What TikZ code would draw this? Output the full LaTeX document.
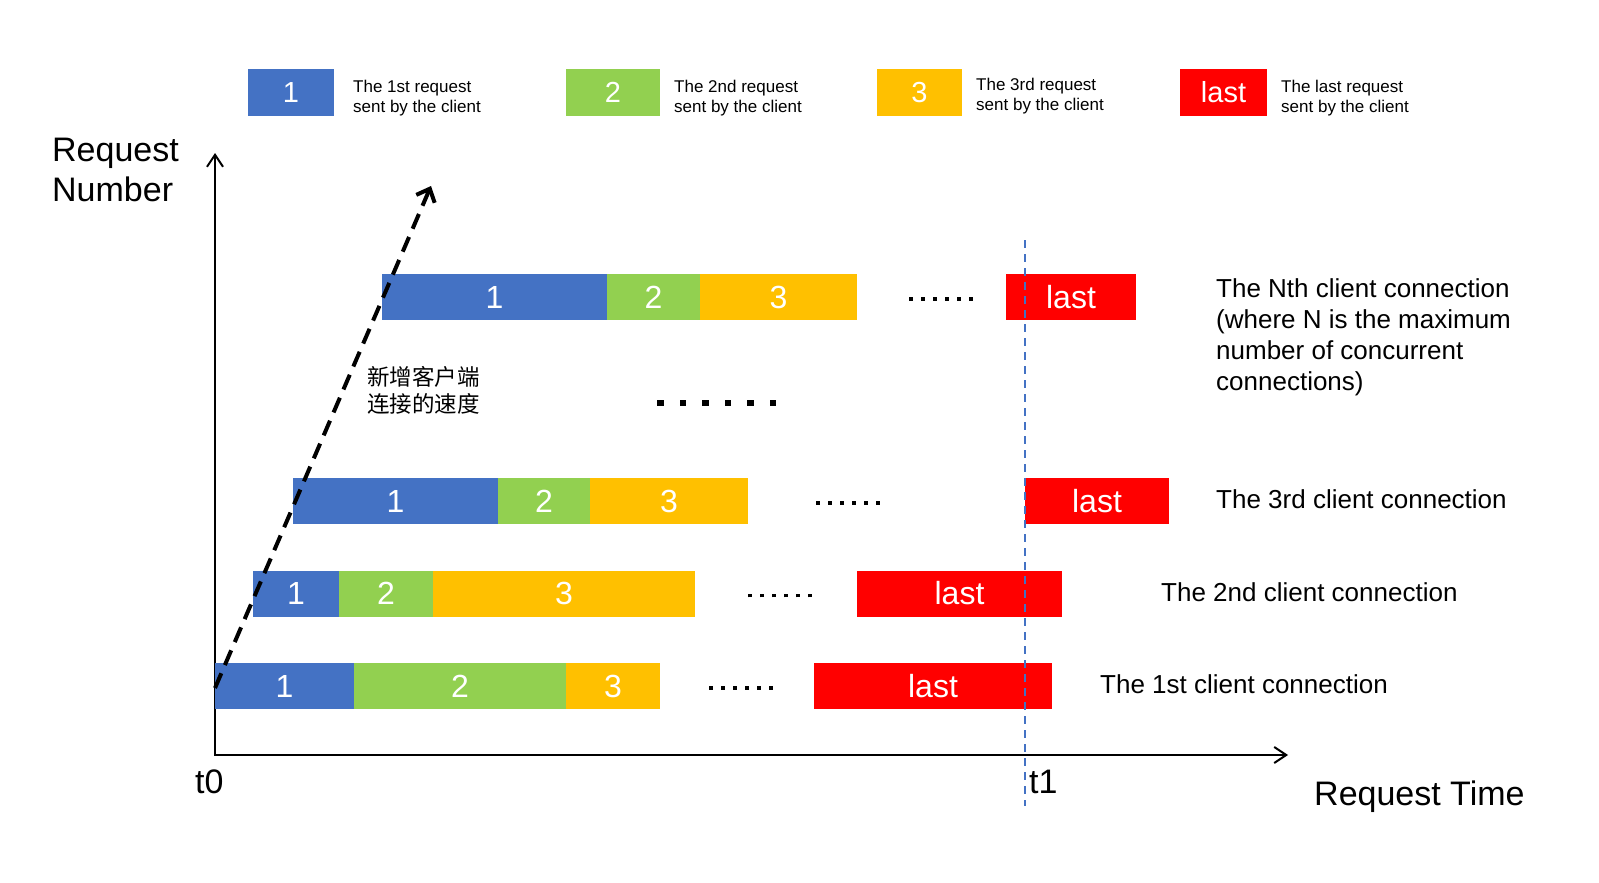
\documentclass[tikz,border=0pt]{standalone}
\usepackage{fontspec}
\setmainfont{Liberation Sans}
\newfontfamily\cjkfont{Noto Sans CJK SC}
\usetikzlibrary{arrows.meta,positioning}

\definecolor{reqblue}{HTML}{4472C4}
\definecolor{reqgreen}{HTML}{92D050}
\definecolor{reqyellow}{HTML}{FFC000}
\definecolor{reqred}{HTML}{FF0000}

\newcommand{\fsz}[2]{\fontsize{#1}{#2}\selectfont}
\newcommand{\dotrow}[3]{\foreach \dotidx in {1,...,#1}{\ifnum\dotidx>1 \hspace{#3}\fi\rule{#2}{#2}}}

\begin{document}
\begin{tikzpicture}[
    x=1pt, y=-1pt,
    seg/.style={minimum height=46pt, inner sep=0pt, outer sep=0pt, text=white,
      font={\fsz{32pt}{38pt}}},
    legbox/.style={minimum height=47pt, inner sep=0pt, outer sep=0pt, text=white,
      font={\fsz{29pt}{34pt}}},
    legtext/.style={align=left, inner sep=0pt, font={\fsz{17pt}{20pt}}},
    rowlabel/.style={inner sep=0pt, font={\fsz{26pt}{31pt}}},
    biglabel/.style={inner sep=0pt, font={\fsz{34pt}{40pt}}},
    axis/.style={line width=2pt, {Straight Barb[length=12pt, width=16pt]}-{Straight Barb[length=12pt, width=16pt]}},
    rate/.style={line width=4pt, dash pattern=on 16pt off 9pt, -{Straight Barb[length=11pt, width=20pt]}},
    cutoff/.style={line width=2pt, reqblue, dash pattern=on 8pt off 6pt}
  ]
    \useasboundingbox (0,0) rectangle (1599,883);

    % legend
    \node[legbox, fill=reqblue, minimum width=86pt, anchor=west] (k1) at (248,92.5) {1};
    \node[legtext, right=19pt of k1, yshift=-6pt] (k1txt) {The 1st request\\sent by the client};
    \node[legbox, fill=reqgreen, minimum width=94pt, anchor=west] (k2) at (566,92.5) {2};
    \node[legtext, right=14pt of k2, yshift=-6pt] (k2txt) {The 2nd request\\sent by the client};
    \node[legbox, fill=reqyellow, minimum width=85pt, anchor=west] (k3) at (877,92.5) {3};
    \node[legtext, right=14pt of k3, yshift=-4pt] (k3txt) {The 3rd request\\sent by the client};
    \node[legbox, fill=reqred, minimum width=87pt, anchor=west] (k4) at (1180,92.5) {last};
    \node[legtext, right=14pt of k4, yshift=-6pt] (k4txt) {The last request\\sent by the client};

    % axes
    \coordinate (o) at (215,755);
    \coordinate (ytip) at (215,153);
    \coordinate (xtip) at (1288,755);
    \draw[axis] (ytip) -- (o) -- (xtip);
    \node[biglabel, anchor=north west, align=left] (ylabel) at (52,137.5) {Request\\Number};
    \node[biglabel, anchor=base west] (xlabel) at (1314,805) {Request Time};
    \node[biglabel, anchor=base west] (t0) at (195,793) {t0};
    \node[biglabel, anchor=base west] (t1) at (1029,793) {t1};

    % 1st connection
    \node[seg, fill=reqblue, minimum width=139pt, anchor=west] (a1) at (215,686) {1};
    \node[seg, fill=reqgreen, minimum width=212pt, right=0pt of a1] (b1) {2};
    \node[seg, fill=reqyellow, minimum width=94pt, right=0pt of b1] (c1) {3};
    \node[inner sep=0pt] (d1) at (741,688) {\dotrow{6}{3.5pt}{8.5pt}};
    \node[seg, fill=reqred, minimum width=238pt, anchor=west] (e1) at (814,686) {last};
    \node[rowlabel, anchor=base west] (l1) at (1100,693) {The 1st client connection};

    % 2nd connection
    \node[seg, fill=reqblue, minimum width=86pt, anchor=west] (a2) at (253,593.5) {1};
    \node[seg, fill=reqgreen, minimum width=94pt, right=0pt of a2] (b2) {2};
    \node[seg, fill=reqyellow, minimum width=262pt, right=0pt of b2] (c2) {3};
    \node[inner sep=0pt] (d2) at (780,595.5) {\dotrow{6}{3.5pt}{8.5pt}};
    \node[seg, fill=reqred, minimum width=205pt, anchor=west] (e2) at (857,593.5) {last};
    \node[rowlabel, anchor=base west] (l2) at (1161,601) {The 2nd client connection};

    % 3rd connection
    \node[seg, fill=reqblue, minimum width=205pt, anchor=west] (a3) at (293,501) {1};
    \node[seg, fill=reqgreen, minimum width=92pt, right=0pt of a3] (b3) {2};
    \node[seg, fill=reqyellow, minimum width=158pt, right=0pt of b3] (c3) {3};
    \node[inner sep=0pt] (d3) at (848,503) {\dotrow{6}{3.5pt}{8.5pt}};
    \node[seg, fill=reqred, minimum width=144pt, anchor=west] (e3) at (1025,501) {last};
    \node[rowlabel, anchor=base west] (l3) at (1216,508) {The 3rd client connection};

    \node[inner sep=0pt] (more) at (716.5,403) {\dotrow{6}{6.5pt}{16pt}};

    % Nth connection
    \node[seg, fill=reqblue, minimum width=225pt, anchor=west] (aN) at (382,297) {1};
    \node[seg, fill=reqgreen, minimum width=93pt, right=0pt of aN] (bN) {2};
    \node[seg, fill=reqyellow, minimum width=157pt, right=0pt of bN] (cN) {3};
    \node[inner sep=0pt] (dN) at (941,299) {\dotrow{6}{3.5pt}{8.5pt}};
    \node[seg, fill=reqred, minimum width=130pt, anchor=west] (eN) at (1006,297) {last};
    \node[rowlabel, anchor=north west, align=left] (lN) at (1216,278.5)
      {The Nth client connection\\(where N is the maximum\\number of concurrent\\connections)};

    % growth of connections
    \coordinate (rate0) at (215,688);
    \coordinate (rate1) at (431,186);
    \draw[rate] (rate0) -- (rate1);
    \node[anchor=north west, inner sep=0pt, align=left, font={\cjkfont\fsz{22.5pt}{27pt}}] (speed)
      at (367,366) {新增客户端\\连接的速度};

    % t1 cut-off
    \coordinate (t1a) at (1025,240);
    \coordinate (t1b) at (1025,806);
    \draw[cutoff] (t1a) -- (t1b);
\end{tikzpicture}
\end{document}
